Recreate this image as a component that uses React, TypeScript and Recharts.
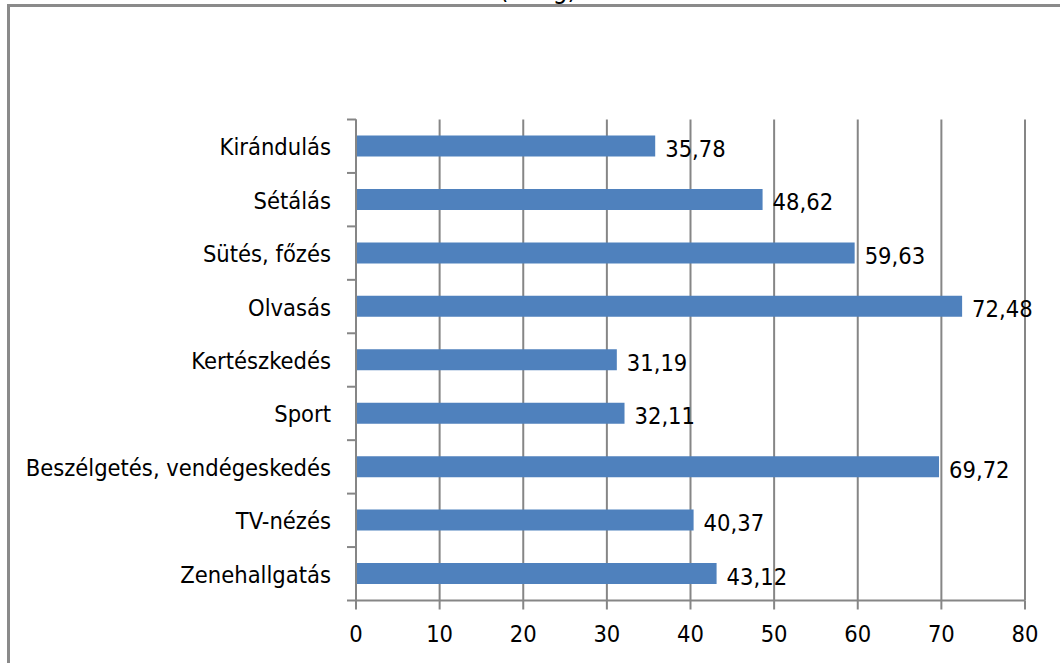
import React from 'react';
import { BarChart, Bar, XAxis, YAxis, CartesianGrid, LabelList } from 'recharts';

const categories = [
  'Kirándulás',
  'Sétálás',
  'Sütés, főzés',
  'Olvasás',
  'Kertészkedés',
  'Sport',
  'Beszélgetés, vendégeskedés',
  'TV-nézés',
  'Zenehallgatás',
];
const values = [35.78, 48.62, 59.63, 72.48, 31.19, 32.11, 69.72, 40.37, 43.12];
const xTicks = [0, 10, 20, 30, 40, 50, 60, 70, 80];
const titleText = '(átlag)';

const data = categories.map((name, i) => ({ name, value: values[i] }));

const FONT = '"Liberation Sans Narrow", "DejaVu Sans Condensed", "Open Sans", sans-serif';
const GRAY = '#868686';
const FS = 23.5;

const YTick = (props: any) => {
  const { x, y, payload, index } = props;
  const off = payload && payload.offset ? payload.offset : 26.7;
  return (
    <g>
      <text
        x={x - 25}
        y={y + 1}
        textAnchor="end"
        dominantBaseline="central"
        fontFamily={FONT}
        fontSize={FS}
        fill="#000"
      >
        {payload.value}
      </text>
      <line x1={x - 9} x2={x} y1={y + off} y2={y + off} stroke={GRAY} strokeWidth={2} />
      {index === 0 ? (
        <line x1={x - 9} x2={x} y1={y - off} y2={y - off} stroke={GRAY} strokeWidth={2} />
      ) : null}
    </g>
  );
};

const fmt = (v: any) => Number(v).toFixed(2).replace('.', ',');

const DataLabel = (props: any) => {
  const { x, y, width, height, value } = props;
  return (
    <text
      x={x + width + 10}
      y={y + height / 2 + 3}
      dominantBaseline="central"
      fontFamily={FONT}
      fontSize={FS}
      fill="#000"
    >
      {fmt(value)}
    </text>
  );
};

export default function App() {
  return (
    <div
      style={{
        position: 'absolute',
        left: 0,
        top: 0,
        width: 1060,
        height: 663,
        overflow: 'hidden',
        background: '#fff',
      }}
    >
      <svg
        width={1060}
        height={40}
        style={{ position: 'absolute', left: 0, top: -34 }}
      >
        <text
          x={538}
          y={32}
          textAnchor="middle"
          fontFamily={FONT}
          fontSize={26}
          fill="#000"
        >
          {titleText}
        </text>
      </svg>
      <div
        style={{
          position: 'absolute',
          left: 7,
          top: 4,
          width: 1100,
          height: 700,
          borderTop: '3px solid #8a8a8a',
          borderLeft: '3px solid #8a8a8a',
          boxSizing: 'border-box',
        }}
      />
      <div style={{ position: 'absolute', left: 0, top: 0 }}>
        <BarChart
          width={1060}
          height={663}
          data={data}
          layout="vertical"
          margin={{ top: 119.5, right: 35, bottom: 22, left: 0 }}
          barSize={21}
        >
          <CartesianGrid horizontal={false} vertical={true} stroke={GRAY} strokeWidth={2} />
          <XAxis
            type="number"
            domain={[0, 80]}
            ticks={xTicks}
            interval={0}
            height={40.5}
            tickSize={9}
            tickMargin={16}
            axisLine={{ stroke: GRAY, strokeWidth: 2 }}
            tickLine={{ stroke: GRAY, strokeWidth: 2 }}
            tick={{ fill: '#000', fontFamily: FONT, fontSize: FS }}
          />
          <YAxis
            type="category"
            dataKey="name"
            width={356}
            tickSize={0}
            tickMargin={0}
            tickLine={false}
            axisLine={{ stroke: GRAY, strokeWidth: 2 }}
            tick={<YTick />}
            interval={0}
          />
          <Bar dataKey="value" fill="#4F81BD" isAnimationActive={false}>
            <LabelList dataKey="value" content={<DataLabel />} />
          </Bar>
        </BarChart>
      </div>
    </div>
  );
}
